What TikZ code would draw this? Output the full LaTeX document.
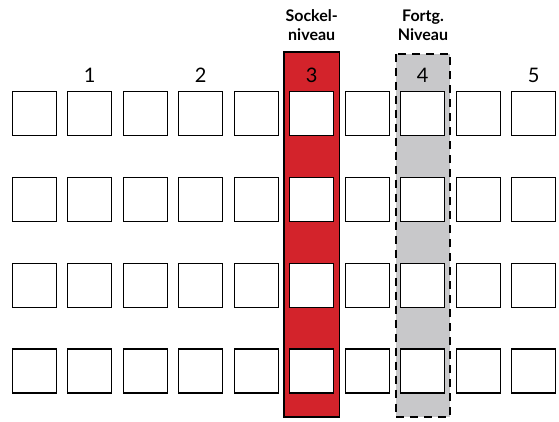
\documentclass[tikz,border=0pt]{standalone}
\usepackage{fontspec}
\setmainfont{Lato}
\definecolor{sockelred}{HTML}{D3232B}
\definecolor{fortggray}{HTML}{C8C8CA}
\tikzset{
  cell/.style={draw=black, fill=white, line width=1.1pt, minimum size=44pt, inner sep=0pt},
  num/.style={font=\fontsize{20}{22}\selectfont},
  lbl/.style={font=\bfseries\fontsize{16}{19}\selectfont, align=center}
}
\begin{document}
\begin{tikzpicture}[x=1pt, y=-1pt]
    \useasboundingbox (0,0) rectangle (559,421);

    \fill[sockelred] (284,52) rectangle (339.5,417);
    \draw[line width=1.6pt] (284,52) rectangle (339.5,417);
    \fill[fortggray] (395.5,53.5) rectangle (450,417);
    \draw[line width=2pt, dash pattern=on 8pt off 6pt] (395.5,53.5) rectangle (450,417);

    \foreach \i in {1,...,10} {
        \foreach \j in {1,...,4} {
            \node[cell] (c-\i-\j) at ({34.2+55.5*(\i-1)}, {113.3+85.9*(\j-1)}) {};
        }
    }

    \foreach \n/\i in {1/2, 2/4, 3/6, 4/8, 5/10} {
        \node[num] (n-\n) at ({34.2+55.5*(\i-1)}, 75) {\n};
    }

    \node[lbl] (sockel) at (311.7,25) {Sockel-\\niveau};
    \node[lbl] (fortg) at (423,25) {Fortg.\\Niveau};
\end{tikzpicture}
\end{document}
